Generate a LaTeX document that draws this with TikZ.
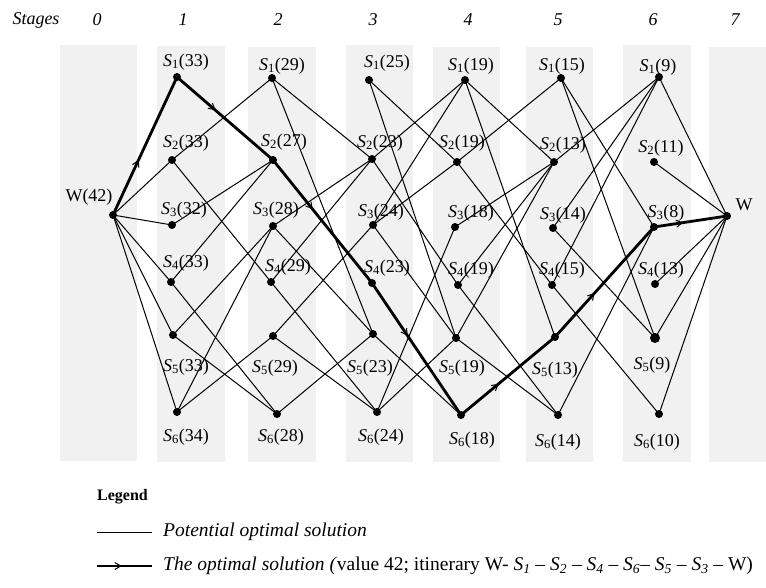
\documentclass[tikz,border=0pt]{standalone}
\usepackage{fontspec}
\setmainfont{Liberation Serif}
\usetikzlibrary{arrows.meta,decorations.markings}
\definecolor{bandgray}{RGB}{241,241,241}
\newcommand\SL[2]{\textit{S}\textsubscript{#1}(#2)}
\newcommand\SI[1]{\textit{S\textsubscript{#1}}}
\begin{document}
\begin{tikzpicture}[x=1pt,y=-1pt,
  band/.style={fill=bandgray,draw=none},
  dot/.style={circle,fill=black,inner sep=0pt,minimum size=8pt},
  lab/.style={font=\fontsize{18}{20}\selectfont,inner sep=0pt},
  hdr/.style={font=\fontsize{18}{20}\selectfont\itshape,inner sep=0pt},
  leg/.style={font=\fontsize{19.5}{22}\selectfont,inner sep=0pt,anchor=west},
  edge/.style={line width=1pt},
  optline/.style={line width=2.8pt,postaction={decorate},
    decoration={markings,mark=at position 0.4 with {\arrow{Straight Barb[length=6pt,width=7pt,line width=1pt]}}}},
]
\useasboundingbox (0,0) rectangle (766,588);
% bands
\fill[band] (60,45) rectangle (137,461);
\fill[band] (157,46) rectangle (225,462);
\fill[band] (248,47) rectangle (316,462);
\fill[band] (346,45) rectangle (413,462);
\fill[band] (433,47) rectangle (500,462);
\fill[band] (526,47) rectangle (593,462);
\fill[band] (623,45) rectangle (691,462);
\fill[band] (709,47) rectangle (766,462);
% headers
\node[hdr] (hs) at (36,20) {Stages};
\node[hdr] (h0) at (97,20) {0};
\node[hdr] (h1) at (183,20) {1};
\node[hdr] (h2) at (278,20) {2};
\node[hdr] (h3) at (373,20) {3};
\node[hdr] (h4) at (468,20) {4};
\node[hdr] (h5) at (558,20) {5};
\node[hdr] (h6) at (653,20) {6};
\node[hdr] (h7) at (735,20) {7};
% dots
\node[dot] (n0) at (113,215) {};
\node[dot] (n7) at (727,216) {};
\node[dot] (n11) at (177,77) {};
\node[dot] (n12) at (172,160) {};
\node[dot] (n13) at (172,225) {};
\node[dot] (n14) at (171,282) {};
\node[dot] (n15) at (173,335) {};
\node[dot] (n16) at (177,412) {};
\node[dot] (n21) at (272,78) {};
\node[dot] (n22) at (273,160) {};
\node[dot] (n23) at (273,226) {};
\node[dot] (n24) at (271,282) {};
\node[dot] (n25) at (273,336) {};
\node[dot] (n26) at (277,414) {};
\node[dot] (n31) at (369,80) {};
\node[dot] (n32) at (372,159) {};
\node[dot] (n33) at (373,225) {};
\node[dot] (n34) at (372,283) {};
\node[dot] (n35) at (373,334) {};
\node[dot] (n36) at (377,412) {};
\node[dot] (n41) at (465,80) {};
\node[dot] (n42) at (457,162) {};
\node[dot] (n43) at (455,227) {};
\node[dot] (n44) at (458,285) {};
\node[dot] (n45) at (456,338) {};
\node[dot] (n46) at (461,415) {};
\node[dot] (n51) at (561,78) {};
\node[dot] (n52) at (554,162) {};
\node[dot] (n53) at (553,228) {};
\node[dot] (n54) at (552,285) {};
\node[dot] (n55) at (555,337) {};
\node[dot] (n56) at (558,415) {};
\node[dot] (n61) at (659,77) {};
\node[dot] (n62) at (654,162) {};
\node[dot] (n63) at (654,227) {};
\node[dot] (n64) at (655,284) {};
\node[dot,minimum width=10pt] (n65) at (655,338) {};
\node[dot] (n66) at (659,414) {};
% labels
\node[lab] (w0) at (89,197) {W(42)};
\node[lab] (w7) at (744,205) {W};
\node[lab] (l11) at (186,62) {\SL{1}{33}};
\node[lab] (l12) at (186,143) {\SL{2}{33}};
\node[lab] (l13) at (184,210) {\SL{3}{32}};
\node[lab] (l14) at (186,263) {\SL{4}{33}};
\node[lab] (l15) at (186,367) {\SL{5}{33}};
\node[lab] (l16) at (186,437) {\SL{6}{34}};
\node[lab] (l21) at (282,66) {\SL{1}{29}};
\node[lab] (l22) at (284,142) {\SL{2}{27}};
\node[lab] (l23) at (276,210) {\SL{3}{28}};
\node[lab] (l24) at (288,267) {\SL{4}{29}};
\node[lab] (l25) at (275,368) {\SL{5}{29}};
\node[lab] (l26) at (281,437) {\SL{6}{28}};
\node[lab] (l31) at (387,63) {\SL{1}{25}};
\node[lab] (l32) at (380,143) {\SL{2}{23}};
\node[lab] (l33) at (381,212) {\SL{3}{24}};
\node[lab] (l34) at (387,268) {\SL{4}{23}};
\node[lab] (l35) at (370,368) {\SL{5}{23}};
\node[lab] (l36) at (381,437) {\SL{6}{24}};
\node[lab] (l41) at (471,66) {\SL{1}{19}};
\node[lab] (l42) at (462,143) {\SL{2}{19}};
\node[lab] (l43) at (471,213) {\SL{3}{18}};
\node[lab] (l44) at (471,270) {\SL{4}{19}};
\node[lab] (l45) at (462,368) {\SL{5}{19}};
\node[lab] (l46) at (472,440) {\SL{6}{18}};
\node[lab] (l51) at (562,66) {\SL{1}{15}};
\node[lab] (l52) at (563,145) {\SL{2}{13}};
\node[lab] (l53) at (563,215) {\SL{3}{14}};
\node[lab] (l54) at (562,270) {\SL{4}{15}};
\node[lab] (l55) at (555,370) {\SL{5}{13}};
\node[lab] (l56) at (558,442) {\SL{6}{14}};
\node[lab] (l61) at (658,67) {\SL{1}{9}};
\node[lab] (l62) at (661,148) {\SL{2}{11}};
\node[lab] (l63) at (666,213) {\SL{3}{8}};
\node[lab] (l64) at (661,270) {\SL{4}{13}};
\node[lab] (l65) at (652,365) {\SL{5}{9}};
\node[lab] (l66) at (657,442) {\SL{6}{10}};
% thin edges
\foreach \a/\b in {n0/n12,n0/n13,n0/n14,n0/n15,n0/n16,
  n12/n21,n12/n24,n13/n22,n14/n22,n14/n26,n15/n23,n15/n26,n16/n23,n16/n25,
  n21/n32,n21/n35,n23/n32,n23/n35,n24/n32,n24/n36,n25/n33,n25/n36,n26/n35,
  n31/n42,n31/n45,n32/n41,n32/n44,n33/n41,n33/n42,n33/n45,n35/n46,n36/n43,n36/n45,
  n41/n52,n41/n55,n42/n51,n42/n54,n43/n52,n44/n52,n44/n56,n45/n52,n45/n56,
  n51/n63,n51/n65,n52/n61,n53/n61,n53/n65,n54/n61,n54/n66,n56/n63,
  n61/n7,n62/n7,n64/n7,n65/n7,n66/n7}
  \draw[edge] (\a.center) -- (\b.center);
% optimal path
\foreach \a/\b in {n0/n11,n11/n22,n22/n34,n34/n46,n46/n55,n55/n63,n63/n7}
  \draw[optline] (\a.center) -- (\b.center);
% legend
\node[inner sep=0pt,anchor=west,font=\fontsize{16}{18}\selectfont\bfseries] (lg) at (97,497) {Legend};
\coordinate (p1a) at (97,532);
\coordinate (p1b) at (152,532);
\draw[edge] (p1a) -- (p1b);
\node[leg] (t1) at (163,532) {\textit{Potential optimal solution}};
\coordinate (p2a) at (97,566);
\coordinate (p2b) at (152,566);
\draw[line width=2.8pt,postaction={decorate},
    decoration={markings,mark=at position 0.45 with {\arrow{Straight Barb[length=6pt,width=7pt,line width=1pt]}}}] (p2a) -- (p2b);
\node[leg] (t2) at (163,566) {\textit{The optimal solution (}value 42; itinerary W- \SI{1} -- \SI{2} -- \SI{4} -- \SI{6}-- \SI{5} -- \SI{3} -- W)};
\end{tikzpicture}
\end{document}
